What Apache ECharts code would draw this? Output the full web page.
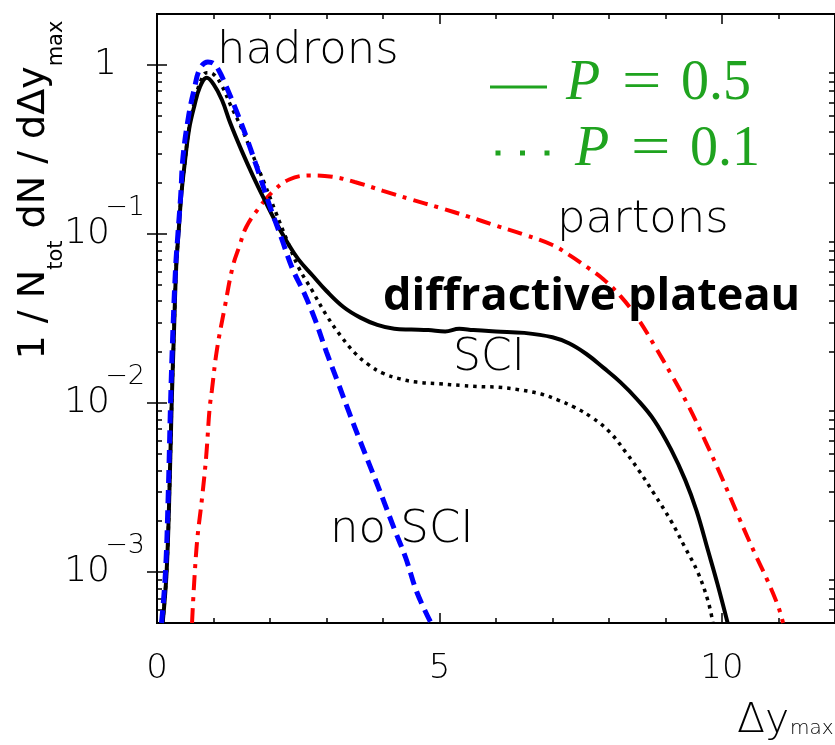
<!DOCTYPE html>
<html><head><meta charset="utf-8">
<script src="https://cdn.jsdelivr.net/npm/echarts@6/dist/echarts.min.js"></script>
<style>html,body{margin:0;padding:0;background:#fff}#c{width:835px;height:745px}</style>
</head><body><div id="c"></div>
<script>
// ---- data ----
// hadrons with SCI, P = 0.5 (solid)
const xSolid = [0.10,0.17,0.22,0.26,0.30,0.34,0.38,0.43,0.49,0.57,0.66,0.76,0.88,1.0,1.15,1.3,1.5,1.7,1.9,2.1,2.3,2.5,2.75,3.0,3.3,3.6,3.9,4.2,4.5,4.8,5.1,5.35,5.6,6.0,6.5,7.0,7.3,7.6,7.9,8.2,8.5,8.8,9.1,9.35,9.55,9.75,9.92,10.1];
const ySolid = [5e-4,1e-3,3e-3,0.01,0.026,0.064,0.1,0.17,0.26,0.42,0.57,0.74,0.84,0.77,0.62,0.45,0.31,0.22,0.16,0.118,0.09,0.071,0.057,0.046,0.037,0.032,0.029,0.0275,0.0272,0.027,0.0265,0.0275,0.027,0.0265,0.026,0.0245,0.0225,0.0195,0.0162,0.0133,0.0105,0.0079,0.0053,0.0035,0.0023,0.00135,8.5e-4,5e-4];
// hadrons with SCI, P = 0.1 (dotted)
const xDotted = [0.10,0.17,0.22,0.26,0.30,0.34,0.38,0.43,0.49,0.57,0.66,0.76,0.88,1.0,1.15,1.3,1.5,1.7,1.9,2.1,2.3,2.5,2.75,3.0,3.25,3.5,3.75,4.0,4.3,4.6,5.0,5.4,5.75,6.05,6.4,6.8,7.1,7.4,7.7,8.0,8.3,8.55,8.8,9.1,9.34,9.57,9.75,9.84];
const yDotted = [5e-4,1e-3,3e-3,0.01,0.026,0.064,0.1,0.17,0.26,0.43,0.6,0.78,0.9,0.88,0.75,0.58,0.42,0.29,0.2,0.135,0.092,0.064,0.046,0.033,0.025,0.0198,0.0168,0.015,0.0139,0.0133,0.013,0.0127,0.0125,0.0124,0.012,0.0113,0.0104,0.0094,0.0082,0.0068,0.0051,0.0039,0.0029,0.002,0.00141,0.001,6.8e-4,5e-4];
// hadrons without SCI (blue dashed)
const xNoSCI = [0.08,0.15,0.2,0.24,0.28,0.33,0.37,0.42,0.46,0.56,0.66,0.76,0.9,1.0,1.1,1.23,1.4,1.6,1.8,2.0,2.2,2.4,2.6,2.8,3.0,3.2,3.4,3.6,3.8,4.0,4.2,4.4,4.6,4.85];
const yNoSCI = [5e-4,1e-3,3e-3,0.01,0.026,0.064,0.1,0.17,0.285,0.5,0.72,0.95,1.04,1.02,0.92,0.74,0.54,0.36,0.23,0.145,0.095,0.062,0.045,0.031,0.02,0.0133,0.0088,0.0059,0.004,0.0027,0.0018,0.00122,7.6e-4,5e-4];
// partons (red dash-dot)
const xPartons = [0.62,0.7,0.8,0.87,0.93,0.97,1.06,1.2,1.34,1.46,1.58,1.8,2.04,2.34,2.7,3.1,3.5,4.0,4.5,5.0,5.5,6.0,6.5,7.0,7.3,7.6,7.9,8.2,8.5,8.8,9.1,9.4,9.7,10.0,10.3,10.6,10.8,11.0,11.08];
const yPartons = [5e-4,0.0014,0.0028,0.0048,0.0092,0.0118,0.0206,0.037,0.064,0.085,0.11,0.142,0.177,0.21,0.222,0.218,0.203,0.18,0.16,0.143,0.127,0.112,0.099,0.086,0.075,0.064,0.054,0.043,0.032,0.022,0.0148,0.0097,0.006,0.0036,0.0021,0.00125,9e-4,6.2e-4,5e-4];

// axis ticks and labels
const xMajorTicks = [0,5,10];
const xMinorTicks = [0,1,2,3,4,5,6,7,8,9,10,11,12];
const yMajorTicks = [0.001,0.01,0.1,1];
const yMinorTicks = [6e-4,7e-4,8e-4,9e-4,2e-3,3e-3,4e-3,5e-3,6e-3,7e-3,8e-3,9e-3,0.02,0.03,0.04,0.05,0.06,0.07,0.08,0.09,0.2,0.3,0.4,0.5,0.6,0.7,0.8,0.9,2];
const yTickBase = ['10','10','10','1'];
const yTickExp = ['\u22123','\u22122','\u22121',''];

const F = 'DejaVu Sans';
const W = 200;
const pair = (xs, ys) => xs.map((x, i) => [x, ys[i]]);
const idxOf = v => yMajorTicks.findIndex(t => Math.abs(Math.log10(t) - Math.log10(v)) < 1e-6);

const chart = echarts.init(document.getElementById('c'), null, {renderer: 'canvas'});

function xAx(pos, ticks, len, labels) {
  return {
    type: 'value', min: 0, max: 12, position: pos,
    axisLine: {show: true, lineStyle: {color: '#000', width: 2}},
    axisTick: {show: true, inside: true, length: len, customValues: ticks, lineStyle: {color: '#000', width: 1.5}},
    axisLabel: labels ? {show: true, customValues: xMajorTicks, fontSize: 34, fontFamily: F, fontWeight: W, color: '#000', margin: 29} : {show: false},
    splitLine: {show: false}
  };
}
function yAx(pos, ticks, len, label) {
  return {
    type: 'log', logBase: 10, min: 5e-4, max: 2, position: pos,
    axisLine: {show: true, lineStyle: {color: '#000', width: 2}},
    axisTick: {show: len > 0, inside: true, length: len, customValues: ticks, lineStyle: {color: '#000', width: 1.5}},
    axisLabel: label || {show: false},
    splitLine: {show: false}
  };
}
const baseLabel = {
  show: true, customValues: yMajorTicks, margin: 40, color: '#000',
  formatter: v => { const i = idxOf(v); return yTickBase[i] === '1' ? '{one|1}' : '{b|' + yTickBase[i] + '}'; },
  rich: {
    one: {fontSize: 36, fontFamily: F, fontWeight: W, color: '#000'},
    b: {fontSize: 36, fontFamily: F, fontWeight: W, color: '#000', padding: [0, 7, 0, 0]}
  }
};
const expLabel = {
  show: true, customValues: yMajorTicks, margin: 12, color: '#000',
  formatter: v => { const e = yTickExp[idxOf(v)]; return e ? '{s|' + e + '}' : ''; },
  rich: {s: {fontSize: 27, fontFamily: F, fontWeight: W, color: '#000', padding: [0, 0, 52, 0]}}
};

const green = '#1fa31f';
const txt = (x, y, text, fs, extra) => ({type: 'text', z: 100, x: x, y: y, style: Object.assign({text: text, fontSize: fs, fontFamily: F, fontWeight: W, fill: '#000', align: 'left', verticalAlign: 'bottom'}, extra || {})});
const serif = (x, y, text, italic, sx) => ({type: 'text', z: 100, x: x, y: y, scaleX: sx || 1, style: {text: text, fontSize: 56, fontFamily: 'Liberation Serif', fontStyle: italic ? 'italic' : 'normal', fill: green, align: 'left', verticalAlign: 'bottom'}});

const option = {
  animation: false,
  backgroundColor: '#fff',
  grid: {left: 157, top: 14, right: -2, bottom: 122, containLabel: false},
  xAxis: [xAx('bottom', xMajorTicks, 10, true), xAx('bottom', xMinorTicks, 5, false), xAx('top', xMajorTicks, 10, false), xAx('top', xMinorTicks, 5, false)],
  yAxis: [yAx('left', yMajorTicks, 10, baseLabel), yAx('left', yMajorTicks, 0, expLabel), yAx('left', yMinorTicks, 5), yAx('right', yMajorTicks, 10), yAx('right', yMinorTicks, 6)],
  series: [
    {name: 'partons', type: 'line', data: pair(xPartons, yPartons), showSymbol: false, smooth: 0.4,
     lineStyle: {color: '#ff0000', width: 4, type: [15, 7, 4, 7], cap: 'butt'}},
    {name: 'P=0.5', type: 'line', data: pair(xSolid, ySolid), showSymbol: false, smooth: 0.4,
     lineStyle: {color: '#000', width: 4}},
    {name: 'P=0.1', type: 'line', data: pair(xDotted, yDotted), showSymbol: false, smooth: 0.4,
     lineStyle: {color: '#000', width: 3.5, type: [3.5, 5], cap: 'butt'}},
    {name: 'no SCI', type: 'line', data: pair(xNoSCI, yNoSCI), showSymbol: false, smooth: 0.4,
     lineStyle: {color: '#0000ff', width: 5, type: [13, 7], cap: 'butt'}}
  ],
  graphic: [
    // y axis title
    {type: 'text', z: 100, x: 41, y: 190, rotation: Math.PI / 2, style: {
      text: '{a|1 / N}{s|tot}{a| dN / d\u0394y}{s|max}', align: 'center', verticalAlign: 'middle',
      rich: {
        a: {fontSize: 38, fontFamily: F, fontWeight: 'normal', fill: '#000', lineHeight: 52, verticalAlign: 'top'},
        s: {fontSize: 21, fontFamily: F, fontWeight: 'normal', fill: '#000', lineHeight: 52, verticalAlign: 'bottom'}
      }}},
    // x axis title
    txt(737, 742, '\u0394y', 41),
    txt(790, 739, 'max', 20),
    // annotations
    txt(217, 74, 'hadrons', 45),
    txt(557, 243, 'partons', 45),
    txt(453, 381, 'SCI', 44),
    txt(330, 553, 'no SCI', 45),
    {type: 'text', z: 100, x: 383, y: 320, style: {text: 'diffractive plateau', fontSize: 45, fontFamily: 'Open Sans', fontWeight: 'bold', fill: '#000', align: 'left', verticalAlign: 'bottom'}},
    // legend
    {type: 'line', z: 100, shape: {x1: 490, y1: 87, x2: 547, y2: 87}, style: {stroke: green, lineWidth: 3}},
    serif(566, 112, 'P', true), serif(622, 112, '=', false, 1.25), serif(681, 112, '0.5', false),
    {type: 'line', z: 100, shape: {x1: 495.5, y1: 153, x2: 550, y2: 153}, style: {stroke: green, lineWidth: 5, lineDash: [5, 19.5]}},
    serif(575, 178, 'P', true), serif(631, 178, '=', false, 1.25), serif(690, 178, '0.1', false)
  ]
};
chart.setOption(option);
</script>
</body></html>
